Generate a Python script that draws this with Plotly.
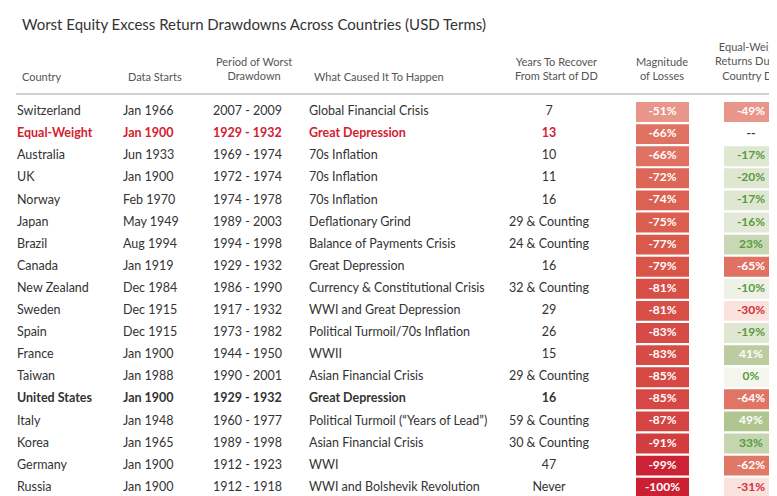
import plotly.graph_objects as go

countries = ["Switzerland","Equal-Weight","Australia","UK","Norway","Japan","Brazil","Canada","New Zealand","Sweden","Spain","France","Taiwan","United States","Italy","Korea","Germany","Russia"]
data_starts = ["Jan 1966","Jan 1900","Jun 1933","Jan 1900","Feb 1970","May 1949","Aug 1994","Jan 1919","Dec 1984","Dec 1915","Dec 1915","Jan 1900","Jan 1988","Jan 1900","Jan 1948","Jan 1965","Jan 1900","Jan 1900"]
periods = ["2007 - 2009","1929 - 1932","1969 - 1974","1972 - 1974","1974 - 1978","1989 - 2003","1994 - 1998","1929 - 1932","1986 - 1990","1917 - 1932","1973 - 1982","1944 - 1950","1990 - 2001","1929 - 1932","1960 - 1977","1989 - 1998","1912 - 1923","1912 - 1918"]
causes = ["Global Financial Crisis","Great Depression","70s Inflation","70s Inflation","70s Inflation","Deflationary Grind","Balance of Payments Crisis","Great Depression","Currency & Constitutional Crisis","WWI and Great Depression","Political Turmoil/70s Inflation","WWII","Asian Financial Crisis","Great Depression","Political Turmoil (\u201cYears of Lead\u201d)","Asian Financial Crisis","WWI","WWI and Bolshevik Revolution"]
years = ["7","13","10","11","16","29 & Counting","24 & Counting","16","32 & Counting","29","26","15","29 & Counting","16","59 & Counting","30 & Counting","47","Never"]
magnitude = [-51,-66,-66,-72,-74,-75,-77,-79,-81,-81,-83,-83,-85,-85,-87,-91,-99,-100]
ew_returns = [-49,None,-17,-20,-17,-16,23,-65,-10,-30,-19,41,0,-64,49,33,-62,-31]

mag_colors = {-51:"#e8968a",-66:"#df7262",-72:"#dc6657",-74:"#db6253",-75:"#da5f50",-77:"#d95a4c",-79:"#d85548",-81:"#d74f46",-83:"#d64b45",-85:"#d54844",-87:"#d44442",-91:"#d23d40",-99:"#cc2236",-100:"#cb1f33"}
ew_style = {-49:("#e8968a","white"),None:("rgba(0,0,0,0)","#333333"),-17:("#dfe7d3","#5a9a3c"),-20:("#dfe7d3","#5a9a3c"),
            -16:("#e2e9d7","#5a9a3c"),23:("#c8d7b4","#5a9a3c"),-65:("#df7262","white"),-10:("#edf1e6","#5a9a3c"),
            -30:("#fae3dd","#d4303a"),-19:("#dfe7d3","#5a9a3c"),41:("#bccca0","white"),0:("#f5f7ef","#5a9a3c"),
            -64:("#e07565","white"),49:("#b0c58f","white"),33:("#c5d5b0","#5a9a3c"),-62:("#e07868","white"),-31:("#fae3dd","#d4303a")}

ROW0, ROWH = 104, 22.1
def ypx(p):
    return (p - ROW0) / ROWH

n = len(countries)
rows = list(range(n))
rowcol = ["#d42030" if c == "Equal-Weight" else "#333333" for c in countries]
def fmt(vals):
    return ["<b>%s</b>" % v if countries[i] in ("Equal-Weight", "United States") else v for i, v in enumerate(vals)]

FONT = "Lato"
fig = go.Figure()
# boxes
fig.add_trace(go.Bar(orientation="h", y=rows, x=[53]*n, base=[628]*n, width=0.9,
                     marker=dict(color=[mag_colors[m] for m in magnitude], line=dict(width=0)), hoverinfo="skip"))
fig.add_trace(go.Bar(orientation="h", y=rows, x=[54]*n, base=[716]*n, width=0.9,
                     marker=dict(color=[ew_style[e][0] for e in ew_returns], line=dict(width=0)), hoverinfo="skip"))

def txt(x, vals, pos, colors, size=12.5):
    fig.add_trace(go.Scatter(x=[x]*n, y=rows, mode="text", text=vals, textposition=pos,
                             textfont=dict(family=FONT, size=size, color=colors), hoverinfo="skip"))

txt(9, fmt(countries), "middle right", rowcol)
txt(115, fmt(data_starts), "middle right", rowcol)
txt(205, fmt(periods), "middle right", rowcol)
txt(301, fmt(causes), "middle right", rowcol)
txt(541, fmt(years), "middle center", rowcol)
txt(654.5, ["<b>%d%%</b>" % m for m in magnitude], "middle center", ["white"]*n, 12)
txt(743, ["<b>--</b>" if e is None else "<b>%d%%</b>" % e for e in ew_returns], "middle center",
    [ew_style[e][1] for e in ew_returns], 12)

hdrs = [(12, 68, "Country", "left"), (118, 68, "Data Starts", "left"),
        (246, 60.5, "Period of Worst<br>Drawdown", "center"), (304, 68, "What Caused It To Happen", "left"),
        (548, 60.5, "Years To Recover<br>From Start of DD", "center"), (654, 60.5, "Magnitude<br>of Losses", "center"),
        (743, 52.5, "Equal-Weight<br>Returns During<br>Country DD", "center")]
for x, y, t, a in hdrs:
    fig.add_annotation(x=x, y=ypx(y), text=t, showarrow=False, xanchor=a, yanchor="middle", align=a,
                       font=dict(family=FONT, size=11, color="#555555"))
fig.add_shape(type="line", x0=8, x1=777, y0=ypx(86), y1=ypx(86), line=dict(color="#d0d0d0", width=2))
fig.add_annotation(x=12, y=ypx(16), text="Worst Equity Excess Return Drawdowns Across Countries (USD Terms)",
                   showarrow=False, xanchor="left", yanchor="middle", font=dict(family=FONT, size=15, color="#333333"))

fig.update_layout(width=777, height=496, margin=dict(l=0, r=0, t=0, b=0), paper_bgcolor="white",
                  plot_bgcolor="white", showlegend=False, barmode="overlay",
                  xaxis=dict(range=[0, 777], visible=False, fixedrange=True),
                  yaxis=dict(range=[ypx(496), ypx(0)], visible=False, fixedrange=True))
fig.write_html("out.html")
